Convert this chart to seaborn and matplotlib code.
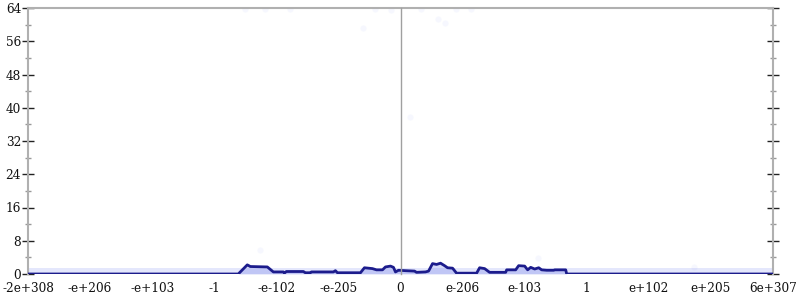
import matplotlib
matplotlib.use("Agg")
import matplotlib.pyplot as plt
import seaborn as sns
import pandas as pd
from matplotlib.ticker import MultipleLocator

# ---- data ----
tick_labels = ["-2e+308", "-e+206", "-e+103", "-1", "-e-102", "-e-205", "0",
               "e-206", "e-103", "1", "e+102", "e+205", "6e+307"]
hist_x = [0.0, 3.387, 3.532, 3.581, 3.855, 3.952, 4.113, 4.129, 4.161, 4.435, 4.468,
          4.548, 4.565, 4.710, 4.919, 4.952, 4.984, 5.355, 5.419, 5.548, 5.613, 5.710,
          5.758, 5.839, 5.887, 5.919, 5.968, 6.081, 6.226, 6.258, 6.403, 6.452, 6.516,
          6.581, 6.645, 6.710, 6.758, 6.839, 6.903, 7.226, 7.274, 7.355, 7.435, 7.694,
          7.710, 7.855, 7.903, 8.0, 8.048, 8.097, 8.161, 8.226, 8.274, 8.355, 8.468,
          8.484, 8.661, 8.677, 12.0]
hist_count = [0, 0, 2.2, 1.8, 1.7, 0.5, 0.5, 0.2, 0.6, 0.6, 0.3,
              0.3, 0.5, 0.5, 0.5, 0.8, 0.3, 0.3, 1.5, 1.3, 1.0, 1.0,
              1.7, 1.9, 1.6, 0.5, 0.9, 0.8, 0.7, 0.4, 0.5, 0.7, 2.5,
              2.3, 2.6, 2.0, 1.5, 1.4, 0.2, 0.2, 1.5, 1.3, 0.4, 0.4,
              1.0, 1.0, 2.0, 1.9, 1.0, 1.6, 1.2, 1.5, 1.0, 0.9, 0.9,
              1.0, 1.0, 0, 0]
outlier_x = [5.403, 5.839, 6.597, 6.710, 6.161, 3.742, 8.210, 10.726,
             3.500, 3.823, 4.226, 5.597, 6.323, 6.887, 7.129]
outlier_y = [59.2, 63.5, 61.3, 60.4, 37.8, 5.8, 3.9, 1.7,
             63.8, 63.8, 63.8, 63.8, 63.8, 63.8, 63.8]

df = pd.DataFrame({"x": hist_x, "count": hist_count})
dfo = pd.DataFrame({"x": outlier_x, "y": outlier_y})

sns.set_style("white")
plt.rcParams["font.family"] = ["DejaVu Serif"]

fig = plt.figure(figsize=(8, 3), dpi=100)
L, R, B, T = 28 / 800, 773 / 800, 1 - 274 / 300, 1 - 8 / 300
ax = fig.add_axes([L, B, R - L, T - B])

ax.axhspan(0, 1.4, color="#5a6cf0", alpha=0.16, lw=0, zorder=1)
ax.fill_between(df["x"], 0, df["count"], color="#4455e0", alpha=0.22, lw=0, zorder=2)
sns.lineplot(data=df, x="x", y="count", ax=ax, color="#1c1c8c", lw=2,
             estimator=None, sort=False, zorder=3)
sns.scatterplot(data=dfo, x="x", y="y", ax=ax, color="#7080f0", alpha=0.06,
                s=20, linewidth=0, zorder=2)

ax.set_xlim(0, 12)
ax.set_ylim(0, 64)
ax.set_xticks(range(13))
ax.set_xticklabels(tick_labels)
ax.yaxis.set_major_locator(MultipleLocator(8))
ax.yaxis.set_minor_locator(MultipleLocator(4))
ax.set_xlabel("")
ax.set_ylabel("")

gray = "#b0b0b0"
for s in ["left", "right", "top"]:
    ax.spines[s].set_color(gray)
    ax.spines[s].set_linewidth(1.5)
ax.spines["bottom"].set_visible(False)

ax.yaxis.set_ticks_position("both")
ax.tick_params(axis="y", which="major", direction="inout", length=8, width=1,
               color="#222222", labelsize=8.7, labelcolor="#111111", pad=1,
               labelright=False)
ax.tick_params(axis="y", which="minor", direction="inout", length=4, width=1,
               color="#999999", left=True, right=True)
ax.tick_params(axis="x", which="major", direction="inout", length=8, width=1,
               color="#222222", labelsize=8.7, labelcolor="#111111", pad=2)

# middle axis at 0
cx = L + (R - L) * 6 / 12
axm = fig.add_axes([cx, B, 0.0001, T - B], sharey=ax)
axm.patch.set_visible(False)
for s in ["right", "top", "bottom"]:
    axm.spines[s].set_visible(False)
axm.spines["left"].set_color("#a0a0a0")
axm.spines["left"].set_linewidth(1.0)
axm.set_xticks([])
axm.tick_params(axis="y", which="major", direction="inout", length=8, width=1,
                color="#222222", labelleft=False)
axm.tick_params(axis="y", which="minor", direction="inout", length=4, width=1,
                color="#999999")

fig.savefig("out.png", dpi=100)
